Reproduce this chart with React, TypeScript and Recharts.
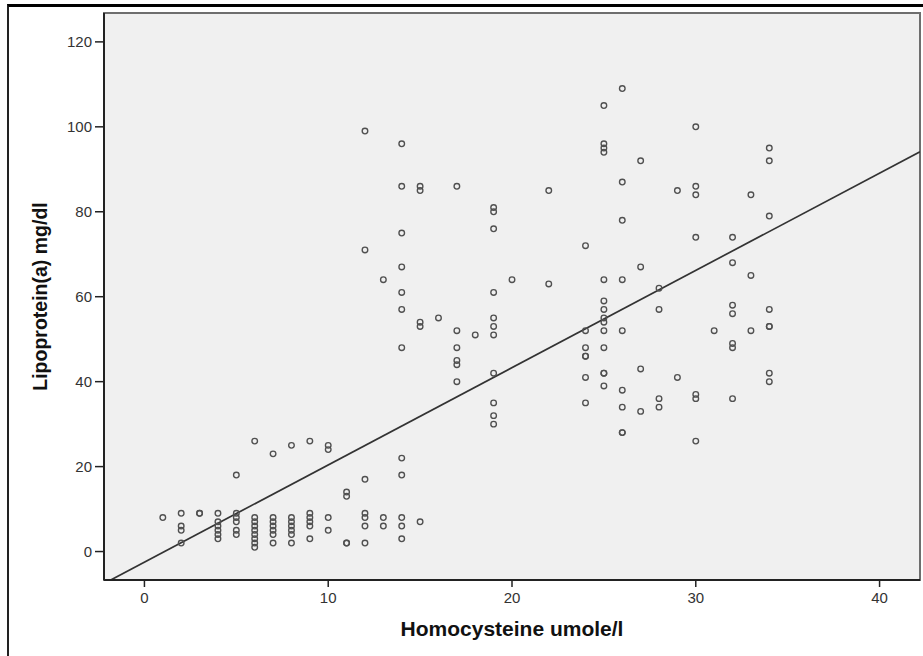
import React from "react";
import {
  ReferenceArea,
  ReferenceLine,
  Scatter,
  ScatterChart,
  XAxis,
  YAxis,
} from "recharts";

// homocysteine (umole/l) levels and the Lp(a) readings seen at each level
const homocysteineLevels = [
  1, 2, 3, 4, 5, 6, 7, 8, 9, 10, 11, 12, 13, 14, 15, 16, 17, 18, 19, 20, 22,
  24, 25, 26, 27, 28, 29, 30, 31, 32, 33, 34,
];
const lipoproteinByLevel = [
  [8],
  [9, 6, 5, 2],
  [9, 9],
  [9, 7, 6, 5, 4, 3],
  [18, 9, 8, 7, 5, 4],
  [26, 8, 7, 6, 5, 4, 3, 2, 1],
  [23, 8, 7, 6, 5, 4, 2],
  [25, 8, 7, 6, 5, 4, 2],
  [26, 9, 8, 7, 6, 3],
  [25, 24, 8, 5],
  [14, 13, 2, 2],
  [99, 71, 17, 9, 8, 6, 2],
  [64, 8, 6],
  [96, 86, 75, 67, 61, 57, 48, 22, 18, 8, 6, 3],
  [86, 85, 54, 53, 7],
  [55],
  [86, 52, 48, 45, 44, 40],
  [51],
  [81, 80, 76, 61, 55, 53, 51, 42, 35, 32, 30],
  [64],
  [85, 63],
  [72, 52, 48, 46, 46, 41, 35],
  [105, 96, 95, 94, 64, 59, 57, 55, 54, 52, 48, 42, 42, 39],
  [109, 87, 78, 64, 52, 38, 34, 28, 28],
  [92, 67, 43, 33],
  [62, 57, 36, 34],
  [85, 41],
  [100, 86, 84, 74, 37, 36, 26],
  [52],
  [74, 68, 58, 56, 49, 48, 36],
  [84, 65, 52],
  [95, 92, 79, 57, 53, 53, 42, 40],
];

const xTicks = [0, 10, 20, 30, 40];
const yTicks = [0, 20, 40, 60, 80, 100, 120];
const xDomain = [-2.2, 42.2];
const yDomain = [-6.7, 126.8];

// linear fit line
const fitIntercept = -2.5;
const fitSlope = 2.29;

const points = homocysteineLevels.flatMap((x, i) =>
  lipoproteinByLevel[i].map((y) => ({ x, y }))
);

const fitSegment = xDomain.map((x) => ({ x, y: fitIntercept + fitSlope * x }));

const FONT = '"Liberation Sans", Arial, sans-serif';

const Ring = (props: any) => {
  const { cx, cy } = props;
  if (cx == null || cy == null) return null;
  return (
    <circle
      cx={cx}
      cy={cy}
      r={2.8}
      fill="none"
      stroke="#505050"
      strokeWidth={1.35}
    />
  );
};

const XTitle = (props: any) => {
  const vb = props.viewBox;
  return (
    <text
      x={vb.x + vb.width / 2}
      y={vb.y + 56}
      textAnchor="middle"
      fontFamily={FONT}
      fontWeight="bold"
      fontSize={21}
      fill="#111"
    >
      Homocysteine umole/l
    </text>
  );
};

const YTitle = (props: any) => {
  const vb = props.viewBox;
  const cx = 47;
  const cy = vb.y + vb.height / 2;
  return (
    <text
      x={cx}
      y={cy}
      transform={`rotate(-90 ${cx} ${cy})`}
      textAnchor="middle"
      fontFamily={FONT}
      fontWeight="bold"
      fontSize={19.5}
      fill="#111"
    >
      Lipoprotein(a) mg/dl
    </text>
  );
};

export default function App() {
  const tickStyle = { fontSize: 15, fill: "#333", fontFamily: FONT };
  return (
    <div
      style={{
        position: "absolute",
        left: 0,
        top: 0,
        width: 923,
        height: 656,
        background: "#fff",
      }}
    >
      <div
        style={{
          position: "absolute",
          left: 7,
          top: 4,
          right: 0,
          bottom: 0,
          borderTop: "3px solid #000",
          borderLeft: "2px solid #222",
        }}
      />
      <div style={{ position: "absolute", left: 0, top: 0 }}>
        <ScatterChart
          width={923}
          height={656}
          margin={{ top: 13, right: 3, bottom: 0, left: 0 }}
        >
          <XAxis
            type="number"
            dataKey="x"
            domain={xDomain}
            allowDataOverflow
            ticks={xTicks}
            tick={tickStyle}
            tickSize={7}
            tickMargin={5}
            height={76}
            axisLine={{ stroke: "#222", strokeWidth: 2 }}
            tickLine={{ stroke: "#222", strokeWidth: 1.5 }}
            label={<XTitle />}
          />
          <YAxis
            type="number"
            dataKey="y"
            domain={yDomain}
            allowDataOverflow
            ticks={yTicks}
            tick={tickStyle}
            tickSize={9}
            tickMargin={3}
            width={104}
            axisLine={{ stroke: "#222", strokeWidth: 2 }}
            tickLine={{ stroke: "#222", strokeWidth: 1.5 }}
            label={<YTitle />}
          />
          <ReferenceArea
            x1={xDomain[0]}
            x2={xDomain[1]}
            y1={yDomain[0]}
            y2={yDomain[1]}
            fill="#f0f0f0"
            fillOpacity={1}
            stroke="#6e6e6e"
            strokeWidth={2}
          />
          <ReferenceLine
            segment={fitSegment}
            ifOverflow="hidden"
            stroke="#333"
            strokeWidth={1.7}
          />
          <Scatter data={points} shape={Ring} isAnimationActive={false} />
        </ScatterChart>
      </div>
    </div>
  );
}
